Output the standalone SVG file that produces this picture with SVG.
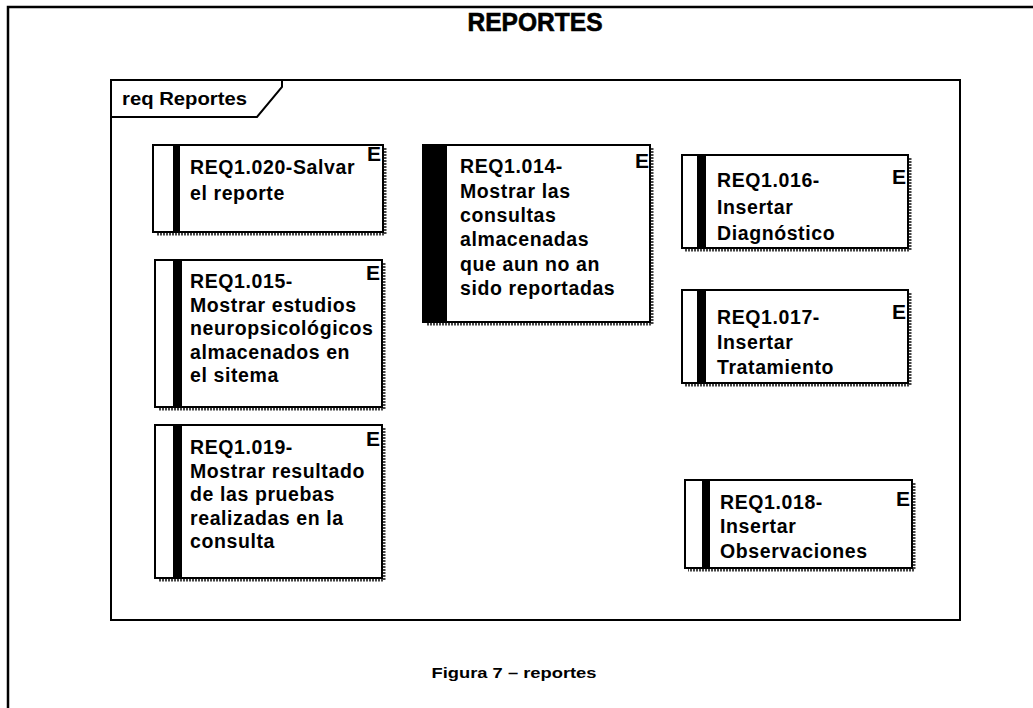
<svg xmlns="http://www.w3.org/2000/svg" width="1033" height="708" viewBox="0 0 1033 708">
<style>
.frame{fill:none;stroke:#000;stroke-width:2}
.box{fill:#fff;stroke:#000;stroke-width:2}
.bar{fill:#000}
.shadow{fill:none;stroke:#444;stroke-width:3;stroke-dasharray:2 1}
.t{font-family:"Liberation Sans",Arial,sans-serif;font-weight:bold;font-size:19.5px;letter-spacing:0.6px;fill:#000}
.e{font-family:"Liberation Sans",Arial,sans-serif;font-weight:bold;font-size:21px;fill:#000;text-anchor:end}
</style>
<rect width="1033" height="708" fill="#fff"/>
<g id="page">
<path d="M8,708 V7 H1033" fill="none" stroke="#000" stroke-width="2.5"/>
<text x="535" y="31" font-family="Liberation Sans,Arial,sans-serif" font-weight="bold" font-size="25" stroke="#000" stroke-width="0.6" text-anchor="middle" textLength="135" lengthAdjust="spacingAndGlyphs">REPORTES</text>
<text x="514" y="678" font-family="Liberation Sans,Arial,sans-serif" font-weight="bold" font-size="15" text-anchor="middle" textLength="165" lengthAdjust="spacingAndGlyphs">Figura 7 – reportes</text>
</g>
<g id="frame">
<rect class="frame" x="111" y="80" width="849" height="540"/>
<path class="frame" d="M111,117 H257 L282,87 V80"/>
<text x="122" y="105" font-family="Liberation Sans,Arial,sans-serif" font-weight="bold" font-size="18" textLength="125" lengthAdjust="spacingAndGlyphs">req Reportes</text>
</g>
<g id="connectors"></g>
<g id="req1020">
<path class="shadow" d="M385,148 V234 H156"/>
<rect class="box" x="153" y="145" width="230" height="87"/>
<rect class="bar" x="173" y="145" width="7" height="87"/>
<text class="e" x="381" y="161">E</text>
<text class="t" x="190" y="174">REQ1.020-Salvar</text>
<text class="t" x="190" y="200">el reporte</text>
</g>
<g id="req1014">
<path class="shadow" d="M652,148 V324 H426"/>
<rect class="box" x="423" y="145" width="227" height="177"/>
<rect class="bar" x="423" y="145" width="24" height="177"/>
<text class="e" x="649" y="168">E</text>
<text class="t" x="460" y="173">REQ1.014-</text>
<text class="t" x="460" y="198">Mostrar las</text>
<text class="t" x="460" y="222">consultas</text>
<text class="t" x="460" y="246">almacenadas</text>
<text class="t" x="460" y="271">que aun no an</text>
<text class="t" x="460" y="295">sido reportadas</text>
</g>
<g id="req1016">
<path class="shadow" d="M910,158 V250 H685"/>
<rect class="box" x="682" y="155" width="226" height="93"/>
<rect class="bar" x="697" y="155" width="9" height="93"/>
<text class="e" x="906" y="184">E</text>
<text class="t" x="717" y="187">REQ1.016-</text>
<text class="t" x="717" y="214">Insertar</text>
<text class="t" x="717" y="240">Diagnóstico</text>
</g>
<g id="req1017">
<path class="shadow" d="M910,293 V385 H685"/>
<rect class="box" x="682" y="290" width="226" height="93"/>
<rect class="bar" x="697" y="290" width="9" height="93"/>
<text class="e" x="906" y="319">E</text>
<text class="t" x="717" y="324">REQ1.017-</text>
<text class="t" x="717" y="349">Insertar</text>
<text class="t" x="717" y="374">Tratamiento</text>
</g>
<g id="req1015">
<path class="shadow" d="M384,263 V409 H158"/>
<rect class="box" x="155" y="260" width="227" height="147"/>
<rect class="bar" x="173" y="260" width="9" height="147"/>
<text class="e" x="380" y="280">E</text>
<text class="t" x="190" y="288">REQ1.015-</text>
<text class="t" x="190" y="312">Mostrar estudios</text>
<text class="t" x="190" y="335">neuropsicológicos</text>
<text class="t" x="190" y="359">almacenados en</text>
<text class="t" x="190" y="382">el sitema</text>
</g>
<g id="req1019">
<path class="shadow" d="M384,428 V580 H158"/>
<rect class="box" x="155" y="425" width="227" height="153"/>
<rect class="bar" x="173" y="425" width="9" height="153"/>
<text class="e" x="380" y="446">E</text>
<text class="t" x="190" y="454">REQ1.019-</text>
<text class="t" x="190" y="478">Mostrar resultado</text>
<text class="t" x="190" y="501">de las pruebas</text>
<text class="t" x="190" y="525">realizadas en la</text>
<text class="t" x="190" y="548">consulta</text>
</g>
<g id="req1018">
<path class="shadow" d="M914,483 V570 H688"/>
<rect class="box" x="685" y="480" width="227" height="88"/>
<rect class="bar" x="702" y="480" width="8" height="88"/>
<text class="e" x="910" y="506">E</text>
<text class="t" x="720" y="509">REQ1.018-</text>
<text class="t" x="720" y="533">Insertar</text>
<text class="t" x="720" y="558">Observaciones</text>
</g>
</svg>
